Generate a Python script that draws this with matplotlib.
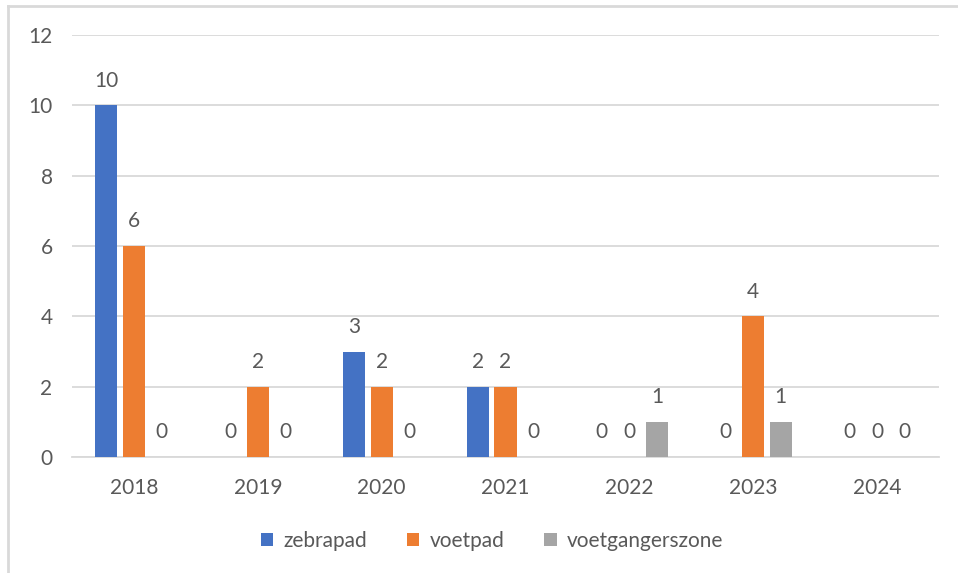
import matplotlib
matplotlib.use("Agg")
import matplotlib.pyplot as plt
from matplotlib.patches import Patch
from matplotlib.lines import Line2D
import numpy as np

years = ["2018", "2019", "2020", "2021", "2022", "2023", "2024"]
zebrapad = [10, 0, 3, 2, 0, 0, 0]
voetpad = [6, 2, 2, 2, 0, 4, 0]
voetgangerszone = [0, 0, 0, 0, 1, 1, 0]
series_names = ["zebrapad", "voetpad", "voetgangerszone"]
colors = ["#4472C4", "#ED7D31", "#A5A5A5"]
y_ticks = [0, 2, 4, 6, 8, 10, 12]

plt.rcParams["font.family"] = ["Lato", "DejaVu Sans"]
text_color = "#595959"
grid_color = "#D9D9D9"
fs = 15

W, H = 958, 573
fig = plt.figure(figsize=(W / 100, H / 100), dpi=100)
ax = fig.add_axes([72 / W, 1 - 457 / H, (939 - 72) / W, (457 - 35) / H])

x = np.arange(len(years))
bar_w = 0.178
step = 0.222
for i, (vals, c) in enumerate(zip([zebrapad, voetpad, voetgangerszone], colors)):
    pos = x + (i - 1) * step
    ax.bar(pos, vals, width=bar_w, color=c, zorder=3)
    for px, v in zip(pos, vals):
        ax.annotate(str(v), (px, v), xytext=(0, 13.5), textcoords="offset points",
                    ha="center", va="baseline", fontsize=fs, color=text_color)

ax.set_xlim(-0.5, len(years) - 0.5)
ax.set_ylim(0, 12)
ax.set_yticks(y_ticks)
ax.set_yticklabels([str(t) for t in y_ticks])
ax.set_xticks(x)
ax.set_xticklabels(years)
ax.tick_params(axis="both", length=0, labelsize=fs, labelcolor=text_color)
ax.tick_params(axis="y", pad=14)
ax.tick_params(axis="x", pad=15)
ax.grid(axis="y", color=grid_color, linewidth=1.3, zorder=0)
for s in ["top", "right", "left"]:
    ax.spines[s].set_visible(False)
ax.spines["bottom"].set_color(grid_color)
ax.spines["bottom"].set_linewidth(1.3)

handles = [Patch(facecolor=c, edgecolor="none") for c in colors]
fig.legend(handles, series_names, loc="center", bbox_to_anchor=(492 / W, 1 - 541 / H),
           ncol=3, frameon=False, fontsize=fs, labelcolor=text_color,
           handlelength=0.6, handleheight=0.6, handletextpad=0.5, columnspacing=1.9)

# chart frame edges
fig.add_artist(Line2D([7.5 / W, 7.5 / W], [0, 1 - 5.5 / H], transform=fig.transFigure,
                      color="#D9D9D9", linewidth=2))
fig.add_artist(Line2D([7.5 / W, 1], [1 - 5.5 / H, 1 - 5.5 / H], transform=fig.transFigure,
                      color="#D9D9D9", linewidth=2))

fig.savefig("out.png", dpi=100, facecolor="white")
